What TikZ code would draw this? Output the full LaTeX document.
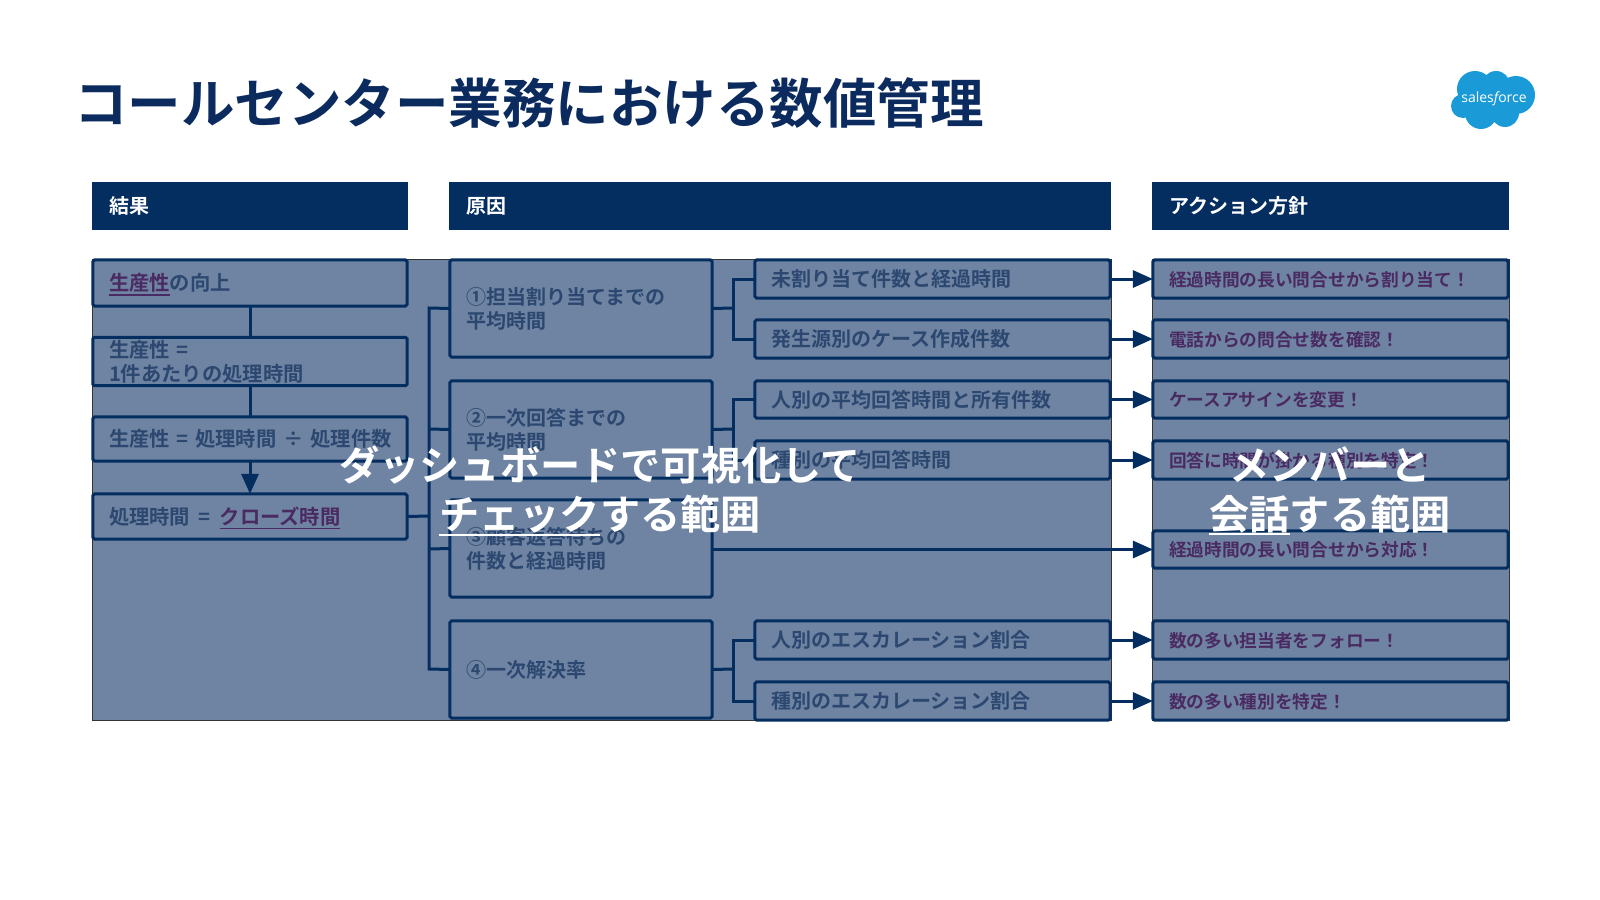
\documentclass[tikz,border=0pt]{standalone}
\usepackage{fontspec}
\usetikzlibrary{arrows.meta}
\setmainfont{Noto Sans CJK JP}[BoldFont={Noto Sans CJK JP Bold}]
\newfontfamily\logofont{Open Sans}
\definecolor{navy}{HTML}{042D60}
\definecolor{veil}{HTML}{6F84A2}
\definecolor{dimtext}{HTML}{2C4870}
\definecolor{plum}{HTML}{4A2A63}
\definecolor{titlecol}{HTML}{0B2B5E}
\definecolor{cloudcol}{HTML}{1A9AD6}
\newcommand\ulbar[3]{\setbox0=\hbox{#3}\rlap{\rule[#1]{\wd0}{#2}}\box0 }
\newcommand\mkbox[7][]{%
  \pgfmathsetmacro\bw{(#5-#3)*0.5-0.9}\pgfmathsetmacro\bh{(#6-#4)*0.5-0.9}%
  \pgfmathsetmacro\cx{(#3+#5)/2}\pgfmathsetmacro\cy{(#4+#6)/2}%
  \pgfmathsetmacro\tw{\bw-16.1}%
  \node[#1,minimum width=\bw pt,minimum height=\bh pt,text width=\tw pt] (#2) at (\cx,\cy)
    {\raisebox{-1.3pt}[\height][\depth]{\begin{tabular}{@{}l@{}}#7\end{tabular}}};}
\tikzset{
  x=0.5pt,y=-0.5pt,
  basebox/.style={inner xsep=8.05pt,inner ysep=0pt,outer sep=0pt,align=left,anchor=center},
  headbox/.style={basebox,fill=navy,draw=navy,line width=0.9pt,text=white,font=\fontsize{10}{12}\selectfont\bfseries},
  itembox/.style={basebox,draw=navy,line width=1.5pt,rounded corners=0.8pt,text=dimtext,font=\fontsize{10}{11.5}\selectfont\bfseries},
  leftbox/.style={itembox,font=\fontsize{10.15}{11.5}\selectfont\bfseries},
  actbox/.style={basebox,draw=navy,line width=1.5pt,rounded corners=0.8pt,text=plum,font=\fontsize{8.85}{11}\selectfont\bfseries},
  link/.style={draw=navy,line width=1.5pt},
  arrowlink/.style={link,-{Triangle[length=10pt,width=8.5pt]}},
  veilbox/.style={fill=veil,draw=black!80,line width=0.4pt},
  bigtext/.style={text=white,align=center,inner sep=0pt,font=\fontsize{20.1}{24.5}\selectfont\bfseries},
}
\begin{document}
\begin{tikzpicture}
\useasboundingbox (0,0) rectangle (1600,899);
% title
\node[anchor=west,inner sep=0pt,text=titlecol,font=\fontsize{26.75}{30}\selectfont\bfseries] (title) at (74,103) {コールセンター業務における数値管理};
% logo
\fill[cloudcol] (1475,89) circle (18) (1496,85) circle (14) (1516,95) circle (19) (1463,106) circle (12) (1481,113) circle (16) (1505,113) circle (14) (1490,100) circle (18);
\node[text=white,inner sep=0pt,font=\logofont\fontsize{7}{9}\selectfont] (logo) at (1494,99) {sales{\itshape f}orce};
% headers
\mkbox[headbox]{h1}{92}{182}{408}{230}{結果}
\mkbox[headbox]{h2}{449}{182}{1111}{230}{原因}
\mkbox[headbox]{h3}{1152}{182}{1509}{230}{アクション方針}
% veils
\fill[veilbox] (92,259) rectangle (1111,720);
\fill[veilbox] (1152,259) rectangle (1509,720);
% left column
\mkbox[leftbox]{l1}{92}{259}{408}{307}{\textcolor{plum}{\ulbar{-2.4pt}{0.7pt}{生産性}}の向上}
\mkbox[leftbox]{l2}{92}{338}{408}{385}{生産性 =\\1件あたりの処理時間}
\mkbox[leftbox]{l3}{92}{416}{408}{462}{生産性 = 処理時間 ÷ 処理件数}
\mkbox[leftbox]{l4}{92}{493}{408}{540}{処理時間\hspace{1pt} = \hspace{1pt}\textcolor{plum}{\ulbar{-2.4pt}{0.7pt}{クローズ時間}}}
% cause column
\mkbox[itembox]{m1}{449}{259}{713}{358}{①担当割り当てまでの\\平均時間}
\mkbox[itembox]{m2}{449}{380}{713}{479}{②一次回答までの\\平均時間}
\mkbox[itembox]{m3}{449}{499}{713}{598}{③顧客返答待ちの\\件数と経過時間}
\mkbox[itembox]{m4}{449}{620}{713}{719}{④一次解決率}
% details
\mkbox[itembox]{d1}{754}{259}{1111}{299}{未割り当て件数と経過時間}
\mkbox[itembox]{d2}{754}{319}{1111}{359}{発生源別のケース作成件数}
\mkbox[itembox]{d3}{754}{380}{1111}{419}{人別の平均回答時間と所有件数}
\mkbox[itembox]{d4}{754}{440}{1111}{480}{種別の平均回答時間}
\mkbox[itembox]{d6}{754}{620}{1111}{660}{人別のエスカレーション割合}
\mkbox[itembox]{d7}{754}{681}{1111}{721}{種別のエスカレーション割合}
% actions
\mkbox[actbox]{a1}{1152}{259}{1509}{299}{経過時間の長い問合せから割り当て！}
\mkbox[actbox]{a2}{1152}{319}{1509}{359}{電話からの問合せ数を確認！}
\mkbox[actbox]{a3}{1152}{380}{1509}{419}{ケースアサインを変更！}
\mkbox[actbox]{a4}{1152}{440}{1509}{480}{回答に時間が掛かる種別を特定！}
\mkbox[actbox]{a5}{1152}{530}{1509}{569}{経過時間の長い問合せから対応！}
\mkbox[actbox]{a6}{1152}{620}{1509}{660}{数の多い担当者をフォロー！}
\mkbox[actbox]{a7}{1152}{681}{1509}{721}{数の多い種別を特定！}
% left links
\draw[link] (l1) -- (l2);
\draw[link] (l2) -- (l3);
\draw[arrowlink] (l3) -- (l4);
% bus
\coordinate (bus) at (429,516);
\draw[link] (l4.east) -- (bus);
\draw[link] (m1.west) -- (429,308) -- (429,669) -- (m4.west);
\draw[link] (m2.west) -- (429,429);
\draw[link] (m3.west) -- (429,549);
% branches
\coordinate (b1) at (733,308);
\coordinate (b2) at (733,429);
\coordinate (b4) at (733,669);
\draw[link] (m1.east) -- (b1);
\draw[link] (m2.east) -- (b2);
\draw[link] (m4.east) -- (b4);
\draw[link] (d1.west) -| (b1) |- (d2.west);
\draw[link] (d3.west) -| (b2) |- (d4.west);
\draw[link] (d6.west) -| (b4) |- (d7.west);
% arrows
\draw[arrowlink] (d1.east) -- (a1.west);
\draw[arrowlink] (d2.east) -- (a2.west);
\draw[arrowlink] (d3.east) -- (a3.west);
\draw[arrowlink] (d4.east) -- (a4.west);
\draw[arrowlink] (m3.east |- a5.west) -- (a5.west);
\draw[arrowlink] (d6.east) -- (a6.west);
\draw[arrowlink] (d7.east) -- (a7.west);
% overlay captions
\node[bigtext] (cap1) at (600,491) {ダッシュボードで可視化して\\\ulbar{-3pt}{1pt}{チェック}する範囲};
\node[bigtext] (cap2) at (1330,491) {メンバーと\\\ulbar{-3pt}{1pt}{会話}する範囲};
\end{tikzpicture}
\end{document}
